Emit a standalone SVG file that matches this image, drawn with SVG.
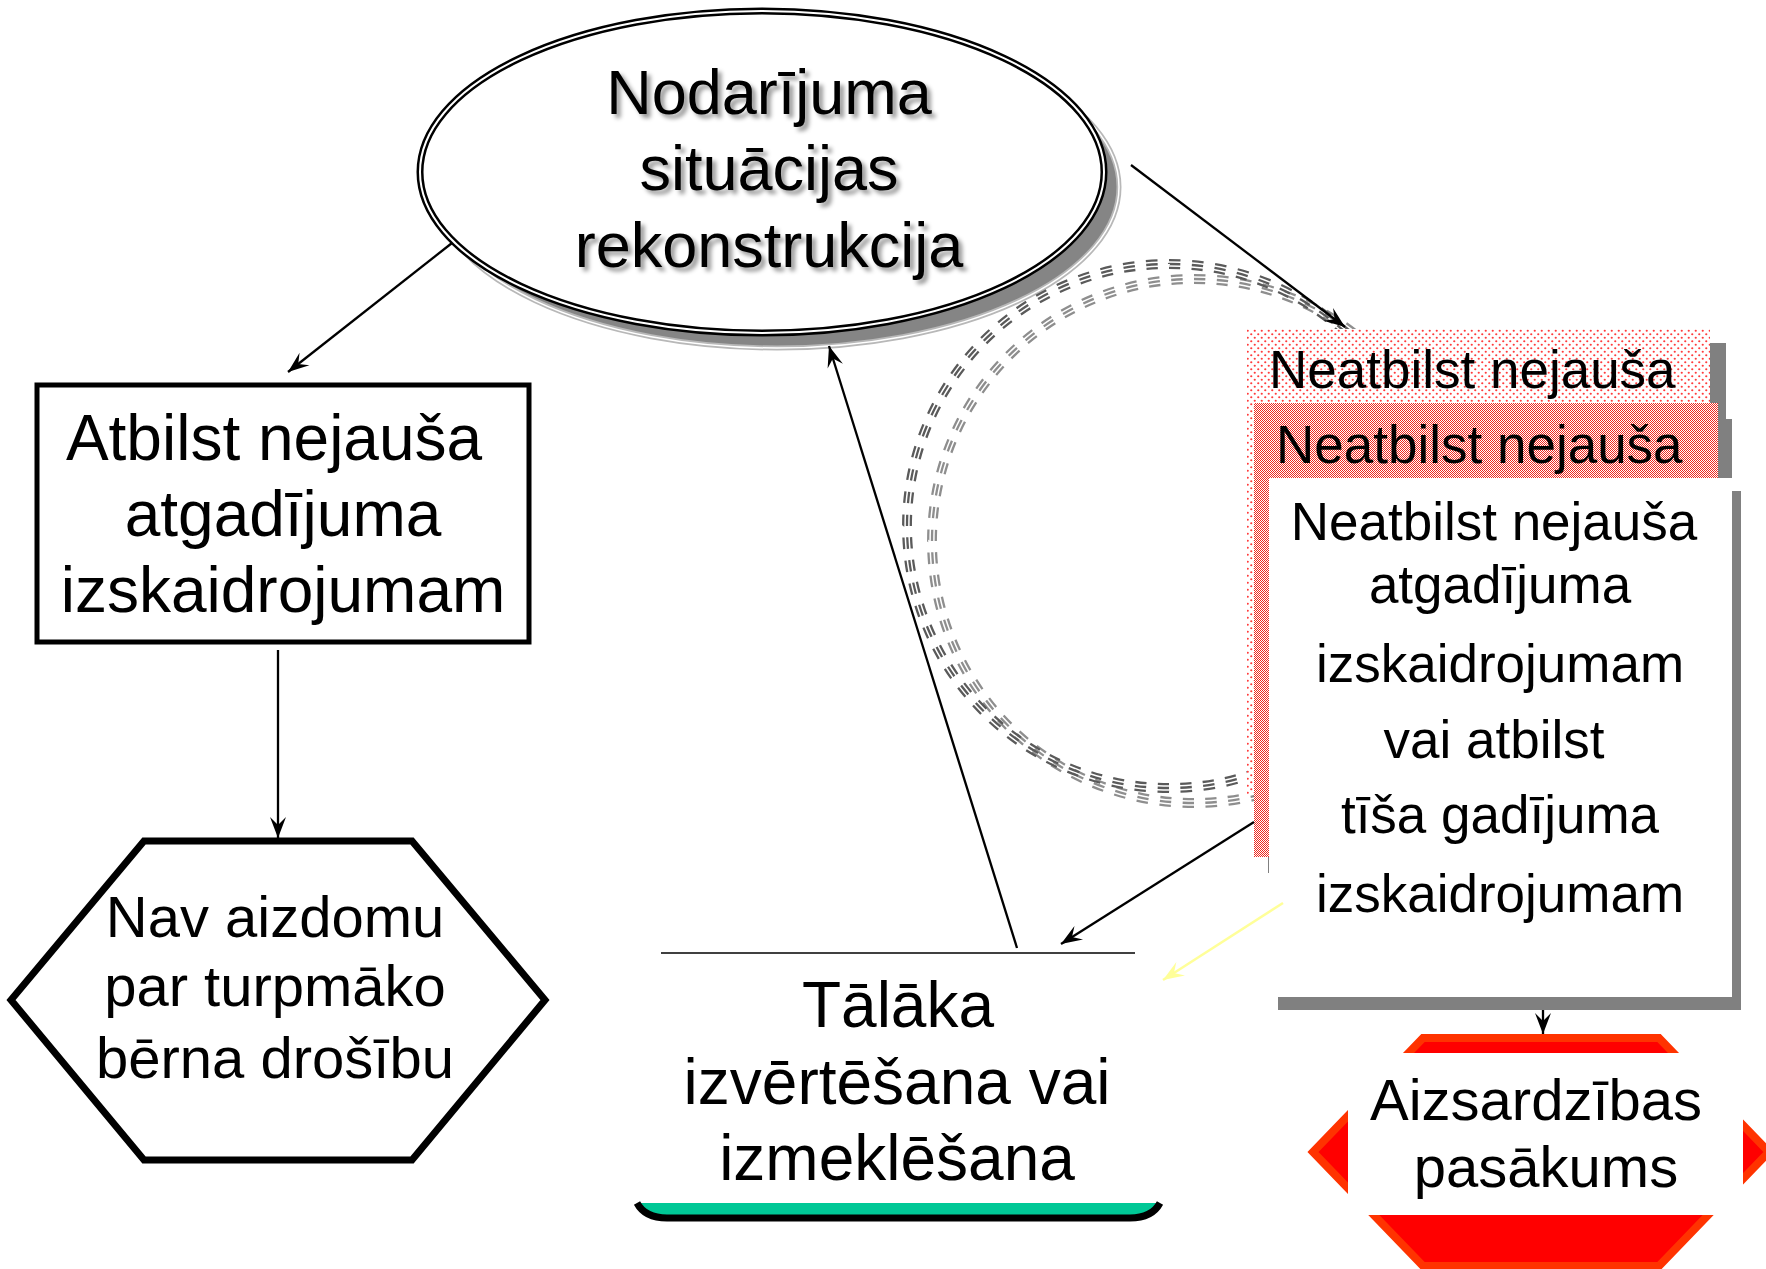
<svg xmlns="http://www.w3.org/2000/svg" width="1766" height="1269" viewBox="0 0 1766 1269">
<defs>
<style>
text{font-family:"Liberation Sans",Arial,sans-serif;fill:#000}
.c{text-anchor:middle}
.t63{font-size:63px}
.t64{font-size:64px}
.t58{font-size:58px}
.t53{font-size:53px}
.ln{stroke:#000;stroke-width:2.3;fill:none}
.rd{fill:none;stroke:#5a5a5a;stroke-width:2.3}
.rl{fill:none;stroke:#8e8e8e;stroke-width:2.3}
</style>
<marker id="ah" viewBox="-22 -10 24 20" markerWidth="24" markerHeight="20" refX="0" refY="0" orient="auto" markerUnits="userSpaceOnUse">
<path d="M0,0 L-21,-8 L-13,0 L-21,8 Z" fill="#000"/>
</marker>
<marker id="ahy" viewBox="-22 -10 24 20" markerWidth="24" markerHeight="20" refX="0" refY="0" orient="auto" markerUnits="userSpaceOnUse">
<path d="M0,0 L-21,-8 L-13,0 L-21,8 Z" fill="#ffff99"/>
</marker>
<pattern id="dots" width="7" height="7" patternUnits="userSpaceOnUse">
<rect width="7" height="7" fill="#fff"/>
<circle cx="1.75" cy="1.75" r="1.1" fill="#ff3b3b"/>
<circle cx="5.25" cy="5.25" r="1.1" fill="#ff3b3b"/>
</pattern>
<pattern id="chk" width="2" height="2" patternUnits="userSpaceOnUse">
<rect width="2" height="2" fill="#fff"/>
<rect width="1" height="1" fill="#f02a20"/>
<rect x="1" y="1" width="1" height="1" fill="#f02a20"/>
</pattern>
<filter id="ts" x="-5%" y="-10%" width="115%" height="140%">
<feGaussianBlur in="SourceAlpha" stdDeviation="2"/>
<feOffset dx="4" dy="4" result="b"/>
<feFlood flood-color="#000" flood-opacity="0.4"/>
<feComposite in2="b" operator="in"/>
<feMerge><feMergeNode/><feMergeNode in="SourceGraphic"/></feMerge>
</filter>
</defs>
<rect width="1766" height="1269" fill="#fff"/>

<g id="node-reconstruction">
<ellipse cx="777" cy="187" rx="342" ry="161" fill="#858585" stroke="#b8b8b8" stroke-width="5"/>
<ellipse cx="777" cy="187" rx="342" ry="161" fill="none" stroke="#fff" stroke-width="1.5"/>
<ellipse cx="762" cy="172" rx="342" ry="161" fill="#fff" stroke="#000" stroke-width="7"/>
<ellipse cx="762" cy="172" rx="342" ry="161" fill="none" stroke="#fff" stroke-width="2"/>
<g filter="url(#ts)">
<text class="c t63" x="769" y="114">Nodarījuma</text>
<text class="c t63" x="769" y="190">situācijas</text>
<text class="c t63" x="769" y="267">rekonstrukcija</text>
</g>
</g>

<g id="rings">
<circle class="rl" cx="1194" cy="541" r="258.2" pathLength="72" stroke-dasharray="0.5 0.5"/>
<circle class="rl" cx="1194" cy="541" r="262" pathLength="72" stroke-dasharray="0.5 0.5"/>
<circle class="rl" cx="1194" cy="541" r="265.8" pathLength="72" stroke-dasharray="0.5 0.5"/>
<circle class="rd" cx="1169" cy="526" r="258.2" pathLength="72" stroke-dasharray="0.5 0.5"/>
<circle class="rd" cx="1169" cy="526" r="262" pathLength="72" stroke-dasharray="0.5 0.5"/>
<circle class="rd" cx="1169" cy="526" r="265.8" pathLength="72" stroke-dasharray="0.5 0.5"/>
</g>

<g id="node-atbilst">
<rect x="37" y="385" width="492" height="257" fill="#fff" stroke="#000" stroke-width="5"/>
<text class="c t64" x="274" y="460">Atbilst nejauša</text>
<text class="c t64" x="283" y="536">atgadījuma</text>
<text class="c t64" x="283" y="612">izskaidrojumam</text>
</g>

<g id="node-nav-aizdomu">
<polygon points="144,841 412,841 545,1000 412,1160 144,1160 11,1000" fill="#fff" stroke="#000" stroke-width="7" stroke-linejoin="miter"/>
<text class="c t58" x="275" y="937">Nav aizdomu</text>
<text class="c t58" x="275" y="1006">par turpmāko</text>
<text class="c t58" x="275" y="1078">bērna drošību</text>
</g>

<g id="node-talaka">
<line x1="661" y1="953" x2="1135" y2="953" stroke="#000" stroke-width="1.5"/>
<path d="M637,1203 L1160,1203 Q1152,1218 1130,1218 L667,1218 Q645,1218 637,1203 Z" fill="#00c896"/>
<path d="M637,1203 Q645,1218 667,1218 L1130,1218 Q1152,1218 1160,1203" fill="none" stroke="#000" stroke-width="7"/>
<text class="c t64" x="898" y="1027">Tālāka</text>
<text class="c t64" x="897" y="1104">izvērtēšana vai</text>
<text class="c t64" x="897" y="1180">izmeklēšana</text>
</g>

<g id="node-neatbilst-1">
<rect x="1263" y="343" width="463" height="466" fill="#808080"/>
<rect x="1247" y="329" width="463" height="466" fill="url(#dots)"/>
<text class="t53" x="1269" y="388">Neatbilst nejauša</text>
</g>

<g id="node-neatbilst-2">
<rect x="1268" y="419" width="464" height="454" fill="#808080"/>
<rect x="1254" y="403" width="464" height="454" fill="url(#chk)"/>
<text class="t53" x="1276" y="463">Neatbilst nejauša</text>
</g>

<g id="node-neatbilst-3">
<rect x="1278" y="491" width="463" height="519" fill="#808080"/>
<rect x="1269" y="478" width="463" height="519" fill="#fff"/>
<text class="c t53" x="1494" y="540">Neatbilst nejauša</text>
<text class="c t53" x="1500" y="603">atgadījuma</text>
<text class="c t53" x="1500" y="682">izskaidrojumam</text>
<text class="c t53" x="1494" y="758">vai atbilst</text>
<text class="c t53" x="1500" y="833">tīša gadījuma</text>
<text class="c t53" x="1500" y="912">izskaidrojumam</text>
</g>

<g id="node-aizsardzibas">
<polygon points="1423,1038 1659,1038 1769,1152 1659,1266 1423,1266 1313,1152" fill="#ff0000" stroke="#ff3300" stroke-width="8"/>
<rect x="1348" y="1053" width="395" height="162" fill="#fff"/>
<text class="c t58" x="1536" y="1120">Aizsardzības</text>
<text class="c t58" x="1546" y="1187">pasākums</text>
</g>

<g id="connectors">
<line class="ln" x1="452" y1="243" x2="288" y2="372" marker-end="url(#ah)"/>
<line class="ln" x1="278" y1="650" x2="278" y2="838" marker-end="url(#ah)"/>
<line class="ln" x1="1131" y1="165" x2="1345" y2="327" marker-end="url(#ah)"/>
<line class="ln" x1="1017" y1="948" x2="829" y2="346" marker-end="url(#ah)"/>
<line class="ln" x1="1254" y1="822" x2="1061" y2="944" marker-end="url(#ah)"/>
<line x1="1283" y1="903" x2="1163" y2="980" stroke="#ffff99" stroke-width="2.5" marker-end="url(#ahy)"/>
<line class="ln" x1="1543" y1="1010" x2="1543" y2="1034" marker-end="url(#ah)"/>
</g>
</svg>
